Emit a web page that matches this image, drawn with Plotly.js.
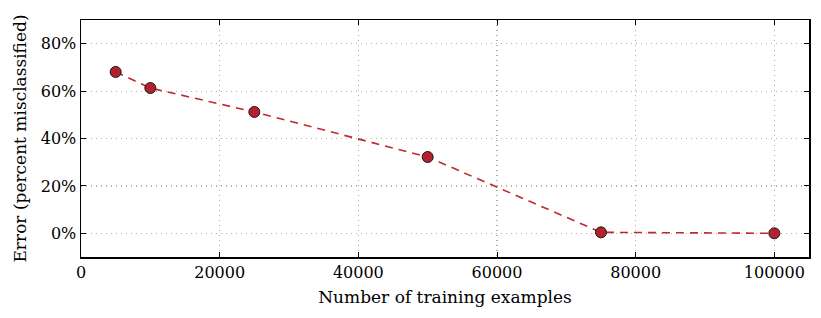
<!DOCTYPE html>
<html><head><meta charset="utf-8">
<script src="https://cdn.plot.ly/plotly-3.0.1.min.js"></script>
<style>body{margin:0;background:#fff}#c{width:821px;height:318px}</style>
</head><body><div id="c"></div>
<script>
const trainingExamples = [5000, 10000, 25000, 50000, 75000, 100000];
const errorPercent = [68.1, 61.3, 51.2, 32.2, 0.4, 0.0];
const xTickVals = [0, 20000, 40000, 60000, 80000, 100000];
const yTickVals = [0, 20, 40, 60, 80];
const yTickText = yTickVals.map(v => v + '%');

const red = '#c0282f';
const tickFont = {family: 'DejaVu Serif', size: 16, color: '#000'};
const titleFont = {family: 'DejaVu Serif', size: 17, color: '#000'};

Plotly.newPlot('c', [{
  x: trainingExamples, y: errorPercent,
  mode: 'lines+markers', type: 'scatter',
  line: {color: red, dash: '8px,6px', width: 1.6},
  marker: {color: '#b5202e', size: 11, line: {color: '#1a1a1a', width: 1}}
}], {
  width: 821, height: 318,
  margin: {l: 81, r: 12, t: 20, b: 61},
  paper_bgcolor: '#fff', plot_bgcolor: '#fff',
  showlegend: false,
  font: tickFont,
  xaxis: {
    range: [0, 105000], tickvals: xTickVals, ticktext: xTickVals.map(String),
    ticks: 'inside', ticklen: 5, tickcolor: '#000', mirror: 'ticks',
    showline: true, linecolor: '#000', linewidth: 1.5,
    showgrid: true, gridcolor: '#b0b0b0', griddash: '1px,4px', gridwidth: 1.2,
    zeroline: false, tickfont: tickFont,
    title: {text: 'Number of training examples', font: titleFont, standoff: 10}
  },
  yaxis: {
    range: [-10, 90], tickvals: yTickVals, ticktext: yTickText,
    ticks: 'inside', ticklen: 5, tickcolor: '#000', mirror: 'ticks',
    showline: true, linecolor: '#000', linewidth: 1.5,
    showgrid: true, gridcolor: '#b0b0b0', griddash: '1px,4px', gridwidth: 1.2,
    zeroline: false, tickfont: tickFont,
    title: {text: 'Error (percent misclassified)', font: titleFont, standoff: 10}
  }
}, {displayModeBar: false, staticPlot: true});
</script></body></html>
